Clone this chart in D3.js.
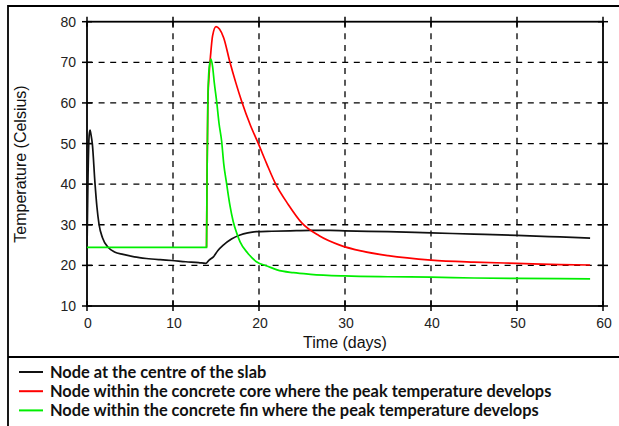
<!DOCTYPE html>
<html><head><meta charset="utf-8">
<script src="https://cdn.jsdelivr.net/npm/d3@7"></script>
<style>html,body{margin:0;padding:0;background:#fff;}svg{display:block;}</style>
</head><body>
<script>
// ---- data ----
const xTicks = [0, 10, 20, 30, 40, 50, 60];
const yTicks = [10, 20, 30, 40, 50, 60, 70, 80];
const xGrid = [10, 20, 30, 40, 50];
const yGrid = [20, 30, 40, 50, 60, 70];

const centreDays = [0,0.12,0.25,0.35,0.48,0.62,0.93,1.15,1.4,1.8,2.48,3.2,4.2,5.5,6.9,8.5,9.85,11.5,13.0,13.8,14.2,14.7,15.2,15.85,16.8,17.8,18.7,19.7,21.5,23.6,26,28.3,30,35,40,45,50,55,58.5];
const centreTemp = [24,42,52,53.3,52,49.9,40.2,34.5,30.1,26.8,24.4,23.3,22.7,22.1,21.7,21.4,21.2,20.9,20.7,20.5,21.3,22.1,23.6,25.0,26.5,27.5,28.0,28.3,28.4,28.5,28.6,28.6,28.5,28.3,28.0,27.7,27.4,27.0,26.7];

const coreDays = [13.9,13.95,14.05,14.2,14.38,14.6,15.0,15.4,15.9,16.6,17.3,18.0,19.0,19.9,20.9,21.9,23.4,25.0,27,29.4,32,35,40,45,50,55,58.5];
const coreTemp = [24.45,40,60,67,72,76.5,78.8,78.2,76,70.2,65,60.3,54.5,50.1,45,40.2,35,30.4,27.3,25.0,23.5,22.4,21.3,20.8,20.5,20.2,20.1];

const finDays = [0,13.9,13.95,14.05,14.2,14.42,14.6,14.8,15.08,15.35,15.66,15.9,16.2,16.6,17.0,17.4,17.8,18.7,19.7,21,22.1,24,26,30,35,40,45,50,58.5];
const finTemp = [24.45,24.45,40,60,68.5,70.8,69,65,60.3,55,50.5,45,40.6,35,30.8,28,25.8,23,20.9,19.8,18.9,18.2,17.8,17.4,17.2,17.1,16.9,16.8,16.7];

const seriesNames = [
  "Node at the centre of the slab",
  "Node within the concrete core where the peak temperature develops",
  "Node within the concrete fin where the peak temperature develops"
];
const seriesColors = ["#111111", "#ff0000", "#00ee00"];
const xTitle = "Time (days)";
const yTitle = "Temperature (Celsius)";

// ---- drawing ----
const W = 619, H = 426;
const L = 87, R = 603, T = 21.7, B = 306;
const svg = d3.select("body").append("svg").attr("width", W).attr("height", H);
svg.append("rect").attr("width", W).attr("height", H).attr("fill", "#fff");

const x = d3.scaleLinear().domain([0, 60]).range([L, R]);
const y = d3.scaleLinear().domain([10, 80]).range([B, T]);

// outer border
svg.append("path").attr("d", `M8,${H} V6 H${W}`).attr("fill", "none").attr("stroke", "#000").attr("stroke-width", 1.8);
svg.append("line").attr("x1", 8).attr("x2", W).attr("y1", 357).attr("y2", 357).attr("stroke", "#000").attr("stroke-width", 1.8);

// grid
const g = svg.append("g");
g.selectAll(".vg").data(xGrid).join("line")
  .attr("x1", d => x(d)).attr("x2", d => x(d)).attr("y1", T).attr("y2", B)
  .attr("stroke", "#000").attr("stroke-width", 1.3).attr("stroke-dasharray", "6,5.6");
g.selectAll(".hg").data(yGrid).join("line")
  .attr("x1", L).attr("x2", R).attr("y1", d => y(d)).attr("y2", d => y(d))
  .attr("stroke", "#000").attr("stroke-width", 1.3).attr("stroke-dasharray", "6,5.6");

// frame
svg.append("rect").attr("x", L).attr("y", T).attr("width", R - L).attr("height", B - T)
  .attr("fill", "none").attr("stroke", "#000").attr("stroke-width", 1.8);

// ticks crossing all four sides
const tk = 5;
const tg = svg.append("g").attr("stroke", "#000").attr("stroke-width", 1.5);
xTicks.forEach(d => {
  tg.append("line").attr("x1", x(d)).attr("x2", x(d)).attr("y1", B - tk).attr("y2", B + tk);
  tg.append("line").attr("x1", x(d)).attr("x2", x(d)).attr("y1", T - tk).attr("y2", T + tk);
});
yTicks.forEach(d => {
  tg.append("line").attr("x1", L - tk).attr("x2", L + tk).attr("y1", y(d)).attr("y2", y(d));
  tg.append("line").attr("x1", R - tk).attr("x2", R + tk).attr("y1", y(d)).attr("y2", y(d));
});

// tick labels
const font = "'Liberation Sans', Arial, sans-serif";
svg.selectAll(".xl").data(xTicks).join("text")
  .attr("x", d => x(d) + 1).attr("y", 327.5).attr("text-anchor", "middle")
  .attr("font-family", font).attr("font-size", 14).attr("fill", "#222").text(d => d);
svg.selectAll(".yl").data(yTicks).join("text")
  .attr("x", 76).attr("y", d => y(d) + 5).attr("text-anchor", "end")
  .attr("font-family", font).attr("font-size", 14).attr("fill", "#222").text(d => d);

// axis titles
svg.append("text").attr("x", 345).attr("y", 348).attr("text-anchor", "middle")
  .attr("font-family", font).attr("font-size", 16).attr("fill", "#111").text(xTitle);
svg.append("text").attr("transform", "translate(26,164) rotate(-90)").attr("text-anchor", "middle")
  .attr("font-family", font).attr("font-size", 16).attr("fill", "#111").text(yTitle);

// lines
const line = d3.line().x(d => x(d[0])).y(d => y(d[1])).curve(d3.curveMonotoneX);
const series = [
  d3.zip(centreDays, centreTemp),
  d3.zip(coreDays, coreTemp),
  d3.zip(finDays, finTemp)
];
svg.append("clipPath").attr("id", "c").append("rect")
  .attr("x", L).attr("y", T).attr("width", R - L).attr("height", B - T);
svg.append("g").attr("clip-path", "url(#c)").selectAll("path").data(series).join("path")
  .attr("d", line).attr("fill", "none")
  .attr("stroke", (d, i) => seriesColors[i]).attr("stroke-width", 1.7);

// legend
const lf = "Lato, 'Open Sans', sans-serif";
const leg = svg.append("g");
seriesNames.forEach((n, i) => {
  const yy = 372 + i * 19.2;
  leg.append("line").attr("x1", 19).attr("x2", 43).attr("y1", yy).attr("y2", yy)
    .attr("stroke", seriesColors[i]).attr("stroke-width", 2);
  leg.append("text").attr("x", 50).attr("y", yy + 5.8)
    .attr("font-family", lf).attr("font-weight", "bold").attr("font-size", 16.4)
    .attr("fill", "#111").text(n);
});
</script>
</body></html>
